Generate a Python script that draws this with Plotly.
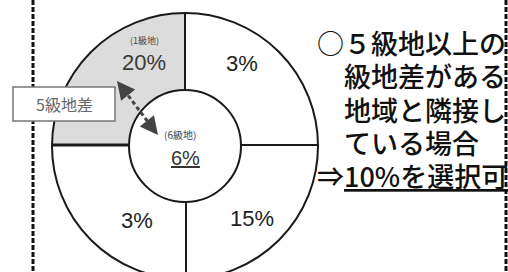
import numpy as np
import plotly.graph_objects as go

# ---- data ----
quadrant_names = ["top-left", "top-right", "bottom-left", "bottom-right"]
quadrant_zone = ["(1級地)", "", "", ""]
quadrant_rates = [20, 3, 3, 15]
quadrant_highlight = [True, False, False, False]
center_zone = "(6級地)"
center_rate = 6
gap_label = "5級地差"
note_lines = ["○５級地以上の", "級地差がある", "地域と隣接し", "ている場合"]
note_result = ["⇒", "10%を選択可"]

# ---- geometry / style ----
W, H = 508, 272
cx, cy = 185, 146
R_out, R_in = 133, 56
quad_angles = {"top-left": (90, 180), "top-right": (0, 90),
               "bottom-left": (180, 270), "bottom-right": (270, 360)}
label_pos = {"top-left": (144, 62), "top-right": (242, 63),
             "bottom-left": (137, 220), "bottom-right": (252, 218)}
num_font = "Liberation Sans, Arial, Noto Sans CJK JP"
jp_font = "Noto Sans CJK JP"

fig = go.Figure()

# highlighted sector (annular quadrant)
for name, hl in zip(quadrant_names, quadrant_highlight):
    if not hl:
        continue
    a0, a1 = quad_angles[name]
    t = np.radians(np.linspace(a0, a1, 60))
    xs = np.concatenate([cx + R_out * np.cos(t), cx + R_in * np.cos(t[::-1])])
    ys = np.concatenate([cy - R_out * np.sin(t), cy - R_in * np.sin(t[::-1])])
    fig.add_trace(go.Scatter(x=xs, y=ys, fill="toself", fillcolor="#dcdcdc",
                             line=dict(width=0), mode="lines", hoverinfo="skip",
                             showlegend=False))

shapes = []
# outer & inner circles
shapes.append(dict(type="circle", x0=cx - R_out, x1=cx + R_out, y0=cy - R_out, y1=cy + R_out,
                   line=dict(color="#1a1a1a", width=2), layer="above"))
shapes.append(dict(type="circle", x0=cx - R_in, x1=cx + R_in, y0=cy - R_in, y1=cy + R_in,
                   line=dict(color="#1a1a1a", width=2), fillcolor="white", layer="above"))
# dividing lines
shapes.append(dict(type="line", x0=cx, x1=cx, y0=cy - R_out, y1=cy - R_in,
                   line=dict(color="#1a1a1a", width=2)))
shapes.append(dict(type="line", x0=cx + 1, x1=cx + 1, y0=cy + R_in, y1=cy + R_out,
                   line=dict(color="#1a1a1a", width=2)))
shapes.append(dict(type="line", x0=cx - R_out, x1=cx - R_in, y0=cy - 1, y1=cy - 1,
                   line=dict(color="#1a1a1a", width=3)))
shapes.append(dict(type="line", x0=cx + R_in, x1=cx + R_out, y0=cy - 1, y1=cy - 1,
                   line=dict(color="#1a1a1a", width=2)))
# dashed page borders
for xv in (33, 506):
    shapes.append(dict(type="line", x0=xv, x1=xv, y0=0, y1=H,
                       line=dict(color="#111", width=3, dash="5px,2px")))
# label box
shapes.append(dict(type="rect", x0=13, x1=115, y0=87, y1=121,
                   line=dict(color="#777", width=1.5), fillcolor="white", layer="above"))
# dashed arrow shaft
shapes.append(dict(type="line", x0=124, x1=151, y0=90, y1=126,
                   line=dict(color="#444", width=3, dash="4px,3px"), layer="above"))

annotations = []
# arrow heads
annotations.append(dict(x=117, y=81, ax=128, ay=95, xref="x", yref="y", axref="x", ayref="y",
                        text="", showarrow=True, arrowhead=2, arrowsize=1.2, arrowwidth=3,
                        arrowcolor="#444"))
annotations.append(dict(x=158, y=135, ax=147, ay=121, xref="x", yref="y", axref="x", ayref="y",
                        text="", showarrow=True, arrowhead=2, arrowsize=1.2, arrowwidth=3,
                        arrowcolor="#444"))

# quadrant labels
for name, zone, rate in zip(quadrant_names, quadrant_zone, quadrant_rates):
    px, py = label_pos[name]
    annotations.append(dict(x=px, y=py, xref="x", yref="y", showarrow=False,
                            text=f"{rate}%", font=dict(family=num_font, size=22,
                                                       color="#3a3a3a" if zone else "#222")))
    if zone:
        annotations.append(dict(x=px, y=py - 22, xref="x", yref="y", showarrow=False,
                                text=zone, font=dict(family=jp_font, size=9, color="#444")))

# center labels
annotations.append(dict(x=180, y=134, xref="x", yref="y", showarrow=False, text=center_zone,
                        font=dict(family=jp_font, size=10, color="#444")))
annotations.append(dict(x=185, y=158, xref="x", yref="y", showarrow=False,
                        text=f"<u>{center_rate}%</u>",
                        font=dict(family=num_font, size=20, color="#333")))

# box label
annotations.append(dict(x=64, y=104, xref="x", yref="y", showarrow=False, text=gap_label,
                        font=dict(family=jp_font, size=16, color="#666")))

# right-hand note
note_x = [315, 342, 342, 342]
note_y = [42, 75, 109, 142]
for txt, xv, yv in zip(note_lines, note_x, note_y):
    annotations.append(dict(x=xv, y=yv, xref="x", yref="y", showarrow=False, text=txt,
                            xanchor="left",
                            font=dict(family=jp_font, size=27, color="#111", weight=500)))
annotations.append(dict(x=315, y=175, xref="x", yref="y", showarrow=False,
                        text=f"{note_result[0]}<u>{note_result[1]}</u>", xanchor="left",
                        font=dict(family=jp_font, size=27, color="#111", weight=500)))

fig.update_layout(
    width=W, height=H, margin=dict(l=0, r=0, t=0, b=0),
    paper_bgcolor="white", plot_bgcolor="white",
    xaxis=dict(range=[0, W], visible=False, fixedrange=True),
    yaxis=dict(range=[H, 0], visible=False, fixedrange=True),
    shapes=shapes, annotations=annotations, showlegend=False,
)

fig.write_html("out.html", config={"displayModeBar": False},
               post_script="document.body.style.margin='0';document.body.style.overflow='hidden';")
